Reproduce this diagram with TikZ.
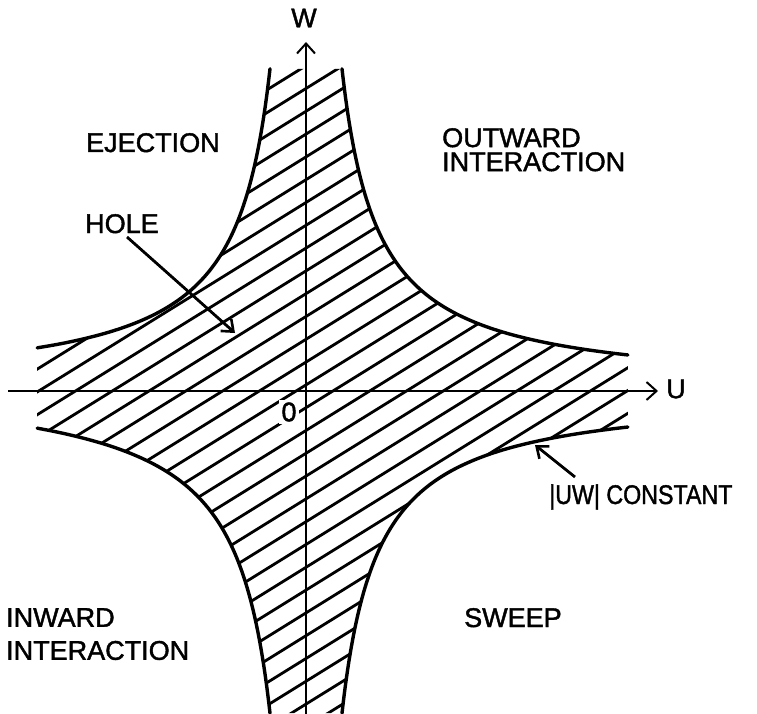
\documentclass[tikz,border=0pt]{standalone}
\usepackage{fontspec}
\setmainfont{Liberation Sans}
\newfontfamily\lettering{Liberation Sans}[FakeBold=1.5]
\usetikzlibrary{arrows.meta}
\begin{document}
\begin{tikzpicture}[x=1pt,y=-1pt,
  lbl/.style={font=\lettering\fontsize{27}{30}\selectfont, inner sep=0pt, anchor=base west},
  lblml/.style={font=\lettering\fontsize{27}{#1}\selectfont, inner sep=0pt, anchor=base west, align=left},
  curve/.style={line width=3.4pt, line cap=round},
  hatch/.style={line width=2.8pt},
  axis/.style={line width=1.8pt, -{Straight Barb[length=10pt,width=18pt,line width=2pt]}},
  ptr/.style={line width=2.8pt, -{Straight Barb[length=10pt,width=16pt,line width=2.6pt]}}]
\useasboundingbox (0,0) rectangle (757,714);
\coordinate (O) at (306,391);
% hatched hole region
\begin{scope}
\clip plot[domain=0:2.011, samples=50, smooth] ({306-36*exp(\x)},{391-322.2*exp(-\x)})
  -- plot[domain=2.011:0, samples=50, smooth] ({306-36*exp(\x)},{391+322.2*exp(-\x)-6*(\x/2.011)^2})
  -- plot[domain=0:2.191, samples=50, smooth] ({306+36*exp(\x)},{391+322.2*exp(-\x)})
  -- plot[domain=2.191:0, samples=50, smooth] ({306+36*exp(\x)},{391-322.2*exp(-\x)})
  -- cycle;
\foreach \k in {-16,...,34}
  \draw[hatch] (0,{415+22.8*\k}) -- ++(760,-471.2);
\end{scope}
% boundary curves |UW| = const
\draw[curve] plot[domain=0:2.011, samples=50, smooth] ({306-36*exp(\x)},{391-322.2*exp(-\x)});
\draw[curve] plot[domain=0:2.011, samples=50, smooth] ({306-36*exp(\x)},{391+322.2*exp(-\x)-6*(\x/2.011)^2});
\draw[curve] plot[domain=0:2.191, samples=50, smooth] ({306+36*exp(\x)},{391+322.2*exp(-\x)});
\draw[curve] plot[domain=0:2.191, samples=50, smooth] ({306+36*exp(\x)},{391-322.2*exp(-\x)});
% origin label
\node[font=\lettering\fontsize{27}{30}\selectfont, fill=white, inner sep=2pt] (zero) at (289,412) {0};
% axes
\coordinate (uL) at (8,391);
\coordinate (uR) at (658,391);
\coordinate (wB) at (306,714);
\coordinate (wT) at (306,42);
\draw[axis] (uL) -- (uR);
\draw[axis] (wB) -- (wT);
\node[font=\lettering\fontsize{27}{30}\selectfont, inner sep=0pt] (wlab) at (304,18) {W};
\node[font=\lettering\fontsize{27}{30}\selectfont, inner sep=0pt] (ulab) at (676,389) {U};
% region labels
\node[lbl] (ej) at (86,152) {EJECTION};
\node[lblml=24, anchor=north west] (out) at (442,128) {OUTWARD\\INTERACTION};
\node[lblml=33, anchor=north west] (in) at (6,608) {INWARD\\INTERACTION};
\node[lbl] (sw) at (464,627) {SWEEP};
\node[lbl] (hole) at (85,233) {HOLE};
\node[lbl] (uw) at (549,504) {\scalebox{0.86}[1]{|UW| CONSTANT}};
% pointers
\coordinate (holeS) at (127,237);
\coordinate (holeT) at (235,333);
\coordinate (uwS) at (575,477);
\coordinate (uwT) at (535,445);
\draw[ptr] (holeS) -- (holeT);
\draw[ptr] (uwS) -- (uwT);
\end{tikzpicture}
\end{document}
